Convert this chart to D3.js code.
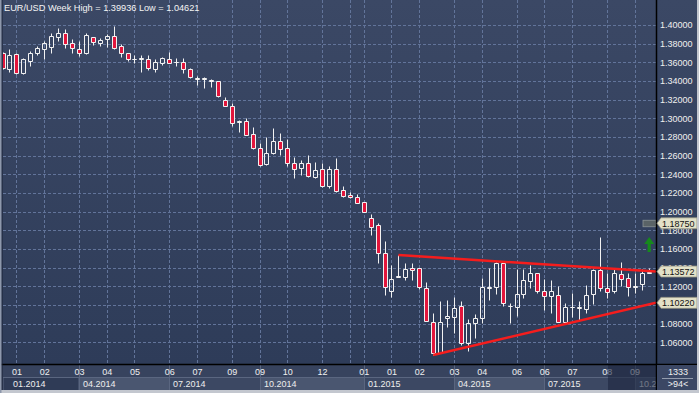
<!DOCTYPE html>
<html><head><meta charset="utf-8">
<script src="https://cdn.jsdelivr.net/npm/d3@7"></script>
<style>
html,body{margin:0;padding:0;background:#3a4763;overflow:hidden;}
svg{display:block;font-family:"Liberation Sans",Arial,sans-serif;}
</style>
</head><body>
<svg id="chart" width="699" height="393"></svg>
<script>
// ---------------- DATA ----------------
const titleText = "EUR/USD Week High = 1.39936 Low = 1.04621";
const opens  = [1.3697,1.3528,1.3689,1.3482,1.3617,1.3703,1.3740,1.3761,1.3875,1.3911,
                1.3804,1.3746,1.3697,1.3868,1.3810,1.3847,1.3882,1.3775,1.3697,1.3632,
                1.3632,1.3636,1.3528,1.3596,1.3639,1.3607,1.3607,1.3532,1.3429,1.3421,
                1.3411,1.3400,1.3196,1.3132,1.2971,1.2971,1.2832,1.2678,1.2507,1.2625,
                1.2757,1.2678,1.2518,1.2464,1.2518,1.2368,1.2453,1.2278,1.2453,1.2232,
                1.2178,1.2153,1.2100,1.1928,1.1856,1.1553,1.1152,1.1299,1.1296,1.1392,
                1.1392,1.1178,1.0820,1.0488,1.0856,1.0874,1.0988,1.0589,1.0809,1.0856,
                1.1184,1.1195,1.1446,1.0985,1.0981,1.1114,1.1259,1.1339,1.1152,1.1099,
                1.1103,1.0820,1.0974,1.0964,1.0959,1.1114,1.1374,1.1178,1.1152,1.1331,
                1.1285,1.1203,1.1224,1.1345];
const highs  = [1.3710,1.3740,1.3703,1.3643,1.3721,1.3775,1.3832,1.3917,1.3965,1.3954,
                1.3847,1.3832,1.3911,1.3870,1.3857,1.3904,1.3994,1.3793,1.3703,1.3678,
                1.3678,1.3678,1.3639,1.3660,1.3707,1.3650,1.3643,1.3543,1.3453,1.3446,
                1.3421,1.3405,1.3225,1.3161,1.2982,1.3000,1.2910,1.2732,1.2796,1.2893,
                1.2839,1.2778,1.2588,1.2553,1.2607,1.2535,1.2518,1.2489,1.2578,1.2274,
                1.2213,1.2185,1.2107,1.1974,1.1875,1.1685,1.1428,1.1535,1.1446,1.1446,
                1.1395,1.1242,1.0910,1.1042,1.1053,1.1088,1.1042,1.0846,1.0903,1.1292,
                1.1399,1.1460,1.1463,1.1020,1.1382,1.1382,1.1428,1.1345,1.1274,1.1267,
                1.1203,1.1017,1.1131,1.1042,1.1213,1.1382,1.1725,1.1339,1.1382,1.1463,
                1.1339,1.1345,1.1382,1.1399];
const lows   = [1.3530,1.3499,1.3475,1.3480,1.3564,1.3678,1.3639,1.3697,1.3832,1.3750,
                1.3703,1.3668,1.3689,1.3786,1.3775,1.3767,1.3748,1.3654,1.3611,1.3589,
                1.3499,1.3518,1.3499,1.3571,1.3589,1.3564,1.3482,1.3435,1.3357,1.3328,
                1.3339,1.3225,1.3132,1.2921,1.2856,1.2818,1.2675,1.2489,1.2503,1.2622,
                1.2607,1.2489,1.2357,1.2392,1.2374,1.2365,1.2267,1.2250,1.2213,1.2160,
                1.2143,1.2089,1.1995,1.1749,1.1452,1.1106,1.1088,1.1296,1.1267,1.1267,
                1.1170,1.0828,1.0462,1.0485,1.0766,1.0702,1.0570,1.0509,1.0649,1.0809,
                1.1053,1.1117,1.0991,1.0809,1.0881,1.1071,1.1184,1.1124,1.0945,1.0910,
                1.0817,1.0803,1.0874,1.0838,1.0910,1.1010,1.1152,1.1077,1.1124,1.1203,
                1.1099,1.1124,1.1160,1.1339];
const closes = [1.3542,1.3678,1.3482,1.3636,1.3697,1.3750,1.3804,1.3882,1.3911,1.3793,
                1.3750,1.3703,1.3890,1.3815,1.3839,1.3882,1.3750,1.3697,1.3632,1.3636,
                1.3643,1.3536,1.3600,1.3643,1.3596,1.3600,1.3525,1.3446,1.3421,1.3429,
                1.3400,1.3242,1.3135,1.2946,1.2960,1.2821,1.2678,1.2499,1.2625,1.2757,
                1.2668,1.2518,1.2453,1.2518,1.2385,1.2446,1.2278,1.2453,1.2224,1.2170,
                1.2153,1.2095,1.1999,1.1838,1.1553,1.1195,1.1278,1.1310,1.1385,1.1371,
                1.1189,1.0831,1.0488,1.0814,1.0881,1.0964,1.0595,1.0803,1.0856,1.1189,
                1.1192,1.1446,1.1017,1.0992,1.1114,1.1267,1.1339,1.1152,1.1099,1.1149,
                1.0820,1.0974,1.0981,1.0978,1.1103,1.1374,1.1178,1.1142,1.1339,1.1278,
                1.1195,1.1189,1.1345,1.1357];

const priceTicks = [1.06,1.08,1.10,1.12,1.14,1.16,1.18,1.20,1.22,1.24,1.26,1.28,1.30,1.32,1.34,1.36,1.38,1.40];
const priceTickLabelsHidden = [1.10]; // fully covered by a price marker in the reference
const monthTickIdx    = [2,6,11,15,19,24,28,33,37,41,46,50,52,56,60,65,69,74,78,82,87,91];
const monthTickLabels = ["01","02","03","04","05","06","07","09","09","10","12","","01","01","02","03","04","06","06","07","08","09"];
const quarterStartIdx = [-1,11,24,37,52,65,78,91];
const quarterLabels   = ["01.2014","04.2014","07.2014","10.2014","01.2015","04.2015","07.2015","10.2015"];
const upperTrend = [[57,1.1535],[94.08,1.1357]];
const lowerTrend = [[62,1.0462],[94.08,1.1022]];
const priceMarkers = [1.18750,1.13572,1.10220];
const orderLevel = 1.1875;
const arrowAt = [93.1,1.1728];
const infoLines = ["1333",">94<"];

// ---------------- LAYOUT ----------------
const W=699,H=393, plotL=3, plotR=656, plotT=0, plotB=364, axisB=390;
const svg=d3.select("#chart");
const x=d3.scaleLinear().domain([0,93]).range([2.5,648.5]);
const y=d3.scaleLinear().domain([1.06,1.40]).range([342.2,25]);

const defs=svg.append("defs");
const g1=defs.append("linearGradient").attr("id","bg").attr("x1",0).attr("x2",0).attr("y1",0).attr("y2",1);
g1.append("stop").attr("offset","0%").attr("stop-color","#3b4865");
g1.append("stop").attr("offset","100%").attr("stop-color","#2d3b58");
defs.append("clipPath").attr("id","clip").append("rect")
  .attr("x",plotL).attr("y",plotT).attr("width",plotR-plotL).attr("height",plotB-plotT);
defs.append("clipPath").attr("id","clipAx").append("rect")
  .attr("x",plotL).attr("y",plotB).attr("width",plotR-plotL).attr("height",axisB-plotB);

// backgrounds
svg.append("rect").attr("x",0).attr("y",0).attr("width",W).attr("height",H).attr("fill","url(#bg)");
svg.append("rect").attr("x",0).attr("y",plotB).attr("width",W).attr("height",axisB-plotB).attr("fill","#37435e");

// grid
const grid=svg.append("g").attr("clip-path","url(#clip)").attr("stroke","#62749a").attr("stroke-dasharray","3,2").attr("stroke-width",1);
grid.selectAll(".h").data(priceTicks).join("line")
  .attr("x1",plotL).attr("x2",plotR)
  .attr("y1",d=>Math.round(y(d))+0.5).attr("y2",d=>Math.round(y(d))+0.5);
grid.selectAll(".v").data(monthTickIdx).join("line")
  .attr("y1",plotT).attr("y2",plotB)
  .attr("x1",d=>Math.round(x(d))+0.5).attr("x2",d=>Math.round(x(d))+0.5);

// title
svg.append("text").attr("x",4).attr("y",11).attr("font-size",9.2).attr("fill","#f4f4f4").text(titleText);

// candles
const data=opens.map((o,i)=>({i,o,h:highs[i],l:lows[i],c:closes[i]}));
const cg=svg.append("g").attr("clip-path","url(#clip)");
const cand=cg.selectAll("g.c").data(data).join("g");
cand.each(function(d){
  const gg=d3.select(this);
  const cx=Math.round(x(d.i));
  const top=Math.round(y(Math.max(d.o,d.c)))+0.5;
  const bot=Math.round(y(Math.min(d.o,d.c)))+0.5;
  const hi=Math.round(y(d.h))+0.5, lo=Math.round(y(d.l))+0.5;
  if(hi<top) gg.append("line").attr("x1",cx+0.5).attr("x2",cx+0.5).attr("y1",hi).attr("y2",top).attr("stroke","#f2f2f2");
  if(lo>bot) gg.append("line").attr("x1",cx+0.5).attr("x2",cx+0.5).attr("y1",bot).attr("y2",lo).attr("stroke","#f2f2f2");
  const bear=d.c<d.o && (bot-top)>=2;
  gg.append("path")
    .attr("d",`M${cx-1.5},${top}H${cx+2.5}V${bot}H${cx-1.5}Z`)
    .attr("fill",bear?"#e2163c":"none")
    .attr("stroke","#f2f2f2").attr("stroke-width",1);
});

// trend lines
const line=d3.line().x(d=>x(d[0])).y(d=>y(d[1]));
[upperTrend,lowerTrend].forEach(t=>{
  svg.append("path").attr("clip-path","url(#clip)").attr("d",line(t))
    .attr("stroke","#f51d1d").attr("stroke-width",2.5).attr("fill","none");
});

// order level bar and arrow
svg.append("rect").attr("x",643).attr("y",y(orderLevel)-3).attr("width",13).attr("height",6.5)
  .attr("fill","#5a6366").attr("stroke","#8c9496").attr("stroke-width",0.8);
{
  const ax=x(arrowAt[0]), ay=y(arrowAt[1]);
  svg.append("path").attr("d",`M${ax},${ay}L${ax+5},${ay+7}L${ax+1.6},${ay+7}L${ax+1.6},${ay+15}L${ax-1.6},${ay+15}L${ax-1.6},${ay+7}L${ax-5},${ay+7}Z`)
    .attr("fill","#168a1c");
}

// right axis
const yAxis=d3.axisRight(y).tickValues(priceTicks)
  .tickFormat(d=>priceTickLabelsHidden.includes(d)?"":d3.format(".5f")(d)).tickSize(0).tickPadding(4);
const ya=svg.append("g").attr("transform",`translate(${plotR},0)`).call(yAxis);
ya.select(".domain").remove();
ya.selectAll("text").attr("font-size",9).attr("fill","#f0f0f0").attr("font-family","Liberation Sans, Arial, sans-serif");

// bottom axis bands
const ab=svg.append("g").attr("clip-path","url(#clipAx)");
const bandFill=(k)=>k===0?"#2f3b56":(k%2===1?"#4a5670":"#3c4863");
ab.selectAll("rect.b").data(quarterStartIdx).join("rect")
  .attr("x",(d,k)=>k===0?plotL:Math.round(x(d))+0.5)
  .attr("width",(d,k)=>(k<quarterStartIdx.length-1?Math.round(x(quarterStartIdx[k+1])):plotR+20)-(k===0?plotL:Math.round(x(d))))
  .attr("y",377.5).attr("height",13)
  .attr("fill",(d,k)=>bandFill(k)).attr("stroke","#5a6680").attr("stroke-width",1);
ab.selectAll("line.s").data(quarterStartIdx.slice(1)).join("line")
  .attr("x1",d=>Math.round(x(d))+0.5).attr("x2",d=>Math.round(x(d))+0.5)
  .attr("y1",plotB).attr("y2",axisB).attr("stroke","#5a6680");
// quarter labels; a label running past the plot edge is cut to the characters that fit
const charW=4.0;
ab.selectAll("text.q").data(quarterStartIdx).join("text")
  .attr("x",(d,k)=>k===0?13:Math.round(x(d))+4).attr("y",387)
  .attr("font-size",9).attr("fill","#eeeeee")
  .text((d,k)=>{
    const tx=k===0?13:Math.round(x(d))+4;
    const fit=Math.max(0,Math.floor((plotR-tx)/charW));
    return quarterLabels[k].slice(0,fit);
  });

// month ticks
const xAxis=d3.axisBottom(x).tickValues(monthTickIdx).tickFormat((d,k)=>monthTickLabels[k]).tickSize(0).tickPadding(0);
const xa=svg.append("g").attr("transform",`translate(0,${plotB})`).call(xAxis);
xa.select(".domain").remove();
xa.selectAll("text").attr("font-size",9).attr("fill","#f0f0f0").attr("dy",0).attr("y",11)
  .attr("font-family","Liberation Sans, Arial, sans-serif");

// dark overlay at the right end of the time axis
svg.append("rect").attr("x",Math.round(x(87))+1).attr("y",plotB+1).attr("width",plotR-Math.round(x(87))-1).attr("height",axisB-plotB-1)
  .attr("fill","#1c2740").attr("opacity",0.6);

// frame lines
svg.append("line").attr("x1",0).attr("x2",W).attr("y1",plotB+0.5).attr("y2",plotB+0.5).attr("stroke","#000").attr("stroke-width",1.5);
svg.append("line").attr("x1",plotR+0.5).attr("x2",plotR+0.5).attr("y1",0).attr("y2",axisB).attr("stroke","#000").attr("stroke-width",1.5);
svg.append("line").attr("x1",2).attr("x2",2).attr("y1",0).attr("y2",axisB).attr("stroke","#1a2236").attr("stroke-width",1);

// price marker boxes
const pm=svg.append("g");
priceMarkers.forEach(v=>{
  const yc=y(v);
  pm.append("path").attr("d",`M${plotR+1},${yc}L${plotR+5},${yc-5.5}H697V${yc+5.5}H${plotR+5}Z`)
    .attr("fill","#e3e1c8").attr("stroke","#8f8f80").attr("stroke-width",0.8);
  pm.append("text").attr("x",662).attr("y",yc+3.3).attr("font-size",9).attr("fill","#111").text(d3.format(".5f")(v));
});

// info box bottom-right
svg.append("rect").attr("x",plotR+1).attr("y",plotB+1).attr("width",W-plotR-1).attr("height",axisB-plotB-1).attr("fill","#3b4764");
svg.append("text").attr("x",678).attr("y",375).attr("text-anchor","middle").attr("font-size",9).attr("fill","#f0f0f0").text(infoLines[0]);
svg.append("line").attr("x1",662).attr("x2",693).attr("y1",378.5).attr("y2",378.5).attr("stroke","#aab2c0").attr("stroke-width",0.8);
svg.append("text").attr("x",678).attr("y",387).attr("text-anchor","middle").attr("font-size",9).attr("fill","#f0f0f0").text(infoLines[1]);

// outer border
svg.append("rect").attr("x",0).attr("y",390).attr("width",W).attr("height",3).attr("fill","#c3c7cf");
svg.append("rect").attr("x",697).attr("y",0).attr("width",2).attr("height",H).attr("fill","#c3c7cf");
svg.append("rect").attr("x",0).attr("y",0).attr("width",1.5).attr("height",H).attr("fill","#8e98ac");
</script>
</body></html>
